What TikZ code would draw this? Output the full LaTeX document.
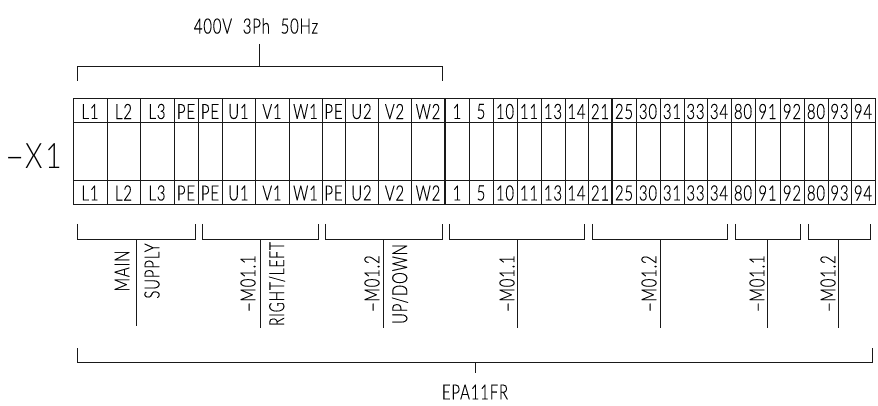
\documentclass[tikz,border=0pt]{standalone}
\usepackage{graphicx}
\usepackage{fontspec}
\setmainfont[FakeStretch=0.71,LetterSpace=4,FakeBold=0.35,WordSpace=2.2]{Lato Light}
\newfontfamily\bigthin[FakeStretch=0.8,LetterSpace=8]{Lato Light}
\newcommand{\lhy}{\scalebox{2}[1]{-}}
\tikzset{
  wire/.style={line width=1pt,draw=black!90},
  heavy/.style={line width=1.8pt,draw=black!90},
  lbl/.style={inner sep=0pt,font=\fontsize{21}{21}\selectfont,text=black},
  vlbl/.style={lbl,rotate=90,anchor=center},
}
\begin{document}
\begin{tikzpicture}[x=1pt,y=-1pt]
\useasboundingbox (0,0) rectangle (878,406);
% strip outline
\coordinate (sTL) at (73,99);
\coordinate (sBR) at (875,205);
\draw[wire] (sTL) rectangle (sBR);
\draw[wire] (73,123) -- (875,123);
\draw[wire] (73,181) -- (875,181);
% cells
\foreach \xa/\xb/\t in {73/107/L1,107/140/L2,140/174/L3,174/198/PE,198/222/PE,222/255/U1,255/289/V1,289/322/W1,322/345/PE,345/378/U2,378/411/V2,411/445/W2,445/469/1,469/493/5,493/517/10,517/541/11,541/565/13,565/588/14,588/612/21,612/636/25,636/660/30,660/684/31,684/707/33,707/731/34,731/755/80,755/780/91,780/804/92,804/828/80,828/851/93,851/875/94}{
  \draw[wire] (\xb,99) -- (\xb,205);
  \node[lbl] at ({(\xa+\xb)/2},111.5) {\t};
  \node[lbl] at ({(\xa+\xb)/2},193) {\t};
}
\draw[heavy] (445,99) -- (445,205);
\draw[heavy] (612,99) -- (612,205);
% supply
\node[lbl] (sup) at (256,26) {400V 3Ph 50Hz};
\coordinate (tA) at (77,81); \coordinate (tB) at (77,67); \coordinate (tC) at (442,67); \coordinate (tD) at (442,81);
\coordinate (tS) at (259,44); \coordinate (tT) at (259,67);
\draw[wire] (tA) -- (tB) -- (tC) -- (tD);
\draw[wire] (tS) -- (tT);
\node[lbl,font=\bigthin\fontsize{35}{35}\selectfont] (x1) at (33,156) {\lhy X1};
% lower brackets
\foreach \n/\a/\b/\s/\e in {b1/77/195/136/326,b2/202/318/260/328,b3/325/442/383/328,b4/449/584/517/328,b5/592/727/660/328,b6/735/800/767/328,b7/808/870/838/328}{
  \coordinate (\n l) at (\a,224); \coordinate (\n m) at (\a,239);
  \coordinate (\n n) at (\b,239); \coordinate (\n r) at (\b,224);
  \coordinate (\n s) at (\s,239); \coordinate (\n e) at (\s,\e);
  \draw[wire] (\n l) -- (\n m) -- (\n n) -- (\n r);
  \draw[wire] (\n s) -- (\n e);
}
\node[vlbl] (main) at (122,271) {MAIN};
\node[vlbl] (supply) at (152,271) {SUPPLY};
\node[vlbl] (m1) at (248,284) {\lhy M01.1};
\node[vlbl] (rl) at (277,284) {\scalebox{0.93}[1]{RIGHT/LEFT}};
\node[vlbl] (m2) at (372,284) {\lhy M01.2};
\node[vlbl] (ud) at (400,284) {UP/DOWN};
\node[vlbl] (m3) at (507,284) {\lhy M01.1};
\node[vlbl] (m4) at (649,284) {\lhy M01.2};
\node[vlbl] (m5) at (757,284) {\lhy M01.1};
\node[vlbl] (m6) at (828,284) {\lhy M01.2};
% overall bracket
\coordinate (oA) at (77,348); \coordinate (oB) at (77,362); \coordinate (oC) at (872,362); \coordinate (oD) at (872,348);
\coordinate (oS) at (475,362); \coordinate (oT) at (475,373);
\draw[wire] (oA) -- (oB) -- (oC) -- (oD);
\draw[wire] (oS) -- (oT);
\node[lbl] (epa) at (475,392) {EPA11FR};
\end{tikzpicture}
\end{document}
